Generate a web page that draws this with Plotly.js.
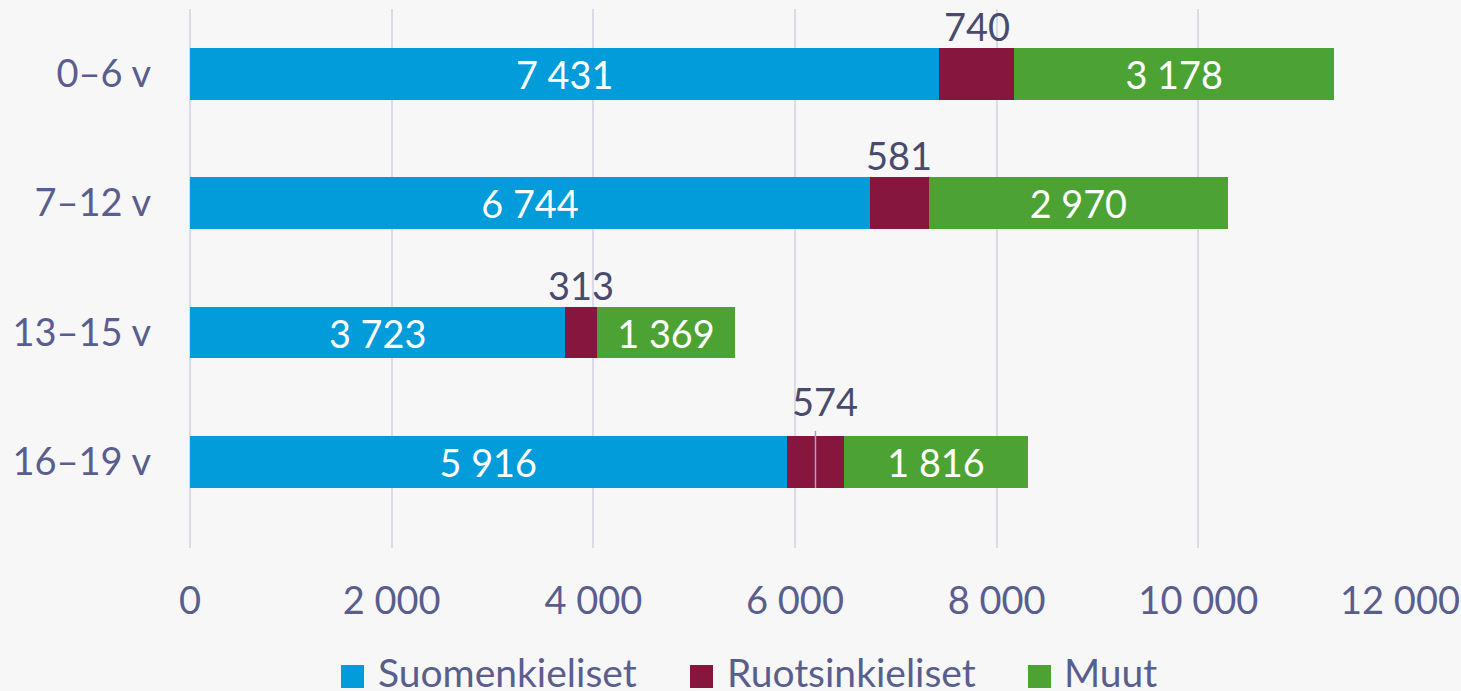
<!DOCTYPE html>
<html>
<head>
<meta charset="utf-8">
<script src="https://cdn.plot.ly/plotly-3.0.1.min.js"></script>
<style>
  html, body { margin: 0; padding: 0; background: #f7f7f7; overflow: hidden; }
  #chart { width: 1461px; height: 691px; }
</style>
</head>
<body>
<div id="chart"></div>
<script>
const categories = ['0–6 v', '7–12 v', '13–15 v', '16–19 v'];
const suomenkieliset = [7431, 6744, 3723, 5916];
const ruotsinkieliset = [740, 581, 313, 574];
const muut = [3178, 2970, 1369, 1816];
const seriesNames = ['Suomenkieliset', 'Ruotsinkieliset', 'Muut'];
const seriesColors = ['#019cd9', '#87163f', '#4ca334'];
const xTicks = [0, 2000, 4000, 6000, 8000, 10000, 12000];

const spaced = v => String(v).replace(/\B(?=(\d{3})+(?!\d))/g, ' ');

const FONT = 'Lato, "Open Sans", sans-serif';
const FS = 38;
const TICKCOL = '#5a5e8e';
const LABCOL = '#474b6e';

const W = 1461, H = 691;
const M = { l: 190, r: 61, t: 9, b: 143 };
const PW = W - M.l - M.r, PH = H - M.t - M.b;
const px2x = px => (px - M.l) / PW;
const py2y = py => (H - M.b - py) / PH;

const common = {
  type: 'bar', orientation: 'h', y: categories, width: 0.4,
  textposition: 'inside', insidetextanchor: 'middle',
  textfont: { family: FONT, size: FS, color: '#ffffff' },
  hoverinfo: 'x+name', cliponaxis: false, showlegend: false
};

const seriesValues = [suomenkieliset, ruotsinkieliset, muut];
const traces = seriesValues.map((vals, k) => Object.assign({}, common, {
  name: seriesNames[k], x: vals,
  text: k === 1 ? vals.map(() => '') : vals.map(spaced),
  texttemplate: '%{text}', marker: { color: seriesColors[k] }
}));

// labels above the Ruotsinkieliset segments
const annotations = categories.map((c, i) => {
  const xc = suomenkieliset[i] + ruotsinkieliset[i] / 2;
  const last = i === categories.length - 1;
  return {
    x: xc, y: i, xref: 'x', yref: 'y', text: spaced(ruotsinkieliset[i]),
    showarrow: false, yanchor: 'middle',
    yshift: last ? 61 : 48, xshift: last ? 10 : 0,
    font: { family: FONT, size: FS, color: LABCOL }
  };
});

// leader line for the last label
const li = categories.length - 1;
const shapes = [{
  type: 'line', xref: 'x', yref: 'y',
  x0: suomenkieliset[li] + ruotsinkieliset[li] / 2,
  x1: suomenkieliset[li] + ruotsinkieliset[li] / 2,
  y0: li - 0.24, y1: li + 0.2,
  line: { color: '#a3a6bf', width: 1.5 }
}];

// legend at the bottom
const legendSquareLeft = [341, 690, 1028];
const legendTextLeft = [377, 726, 1063];
seriesNames.forEach((n, k) => {
  shapes.push({
    type: 'rect', xref: 'paper', yref: 'paper', layer: 'above',
    x0: px2x(legendSquareLeft[k]), x1: px2x(legendSquareLeft[k] + 23),
    y0: py2y(688), y1: py2y(665),
    fillcolor: seriesColors[k], line: { width: 0 }
  });
  annotations.push({
    x: px2x(legendTextLeft[k]), y: py2y(672), xref: 'paper', yref: 'paper',
    xanchor: 'left', yanchor: 'middle', showarrow: false, text: n,
    font: { family: FONT, size: 39, color: TICKCOL }, borderpad: 0
  });
});

const layout = {
  width: W, height: H,
  paper_bgcolor: '#f7f7f7', plot_bgcolor: '#f7f7f7',
  barmode: 'stack', separators: ', ',
  margin: { l: M.l, r: M.r, t: M.t, b: M.b, autoexpand: false },
  font: { family: FONT, size: FS, color: TICKCOL },
  xaxis: {
    range: [0, 12000], tickvals: xTicks, ticktext: xTicks.map(spaced),
    showgrid: true, gridcolor: '#dadbe7', gridwidth: 2,
    zeroline: true, zerolinecolor: '#dadbe7', zerolinewidth: 2,
    showline: false, ticks: '', ticklabelstandoff: 27,
    tickfont: { family: FONT, size: FS, color: TICKCOL }, fixedrange: true
  },
  yaxis: {
    autorange: 'reversed', showgrid: false, zeroline: false, showline: false,
    ticks: '', ticklabelstandoff: 38,
    tickfont: { family: FONT, size: FS, color: TICKCOL }, fixedrange: true
  },
  showlegend: false,
  annotations: annotations,
  shapes: shapes,
  bargap: 0.6
};

Plotly.newPlot('chart', traces, layout, { displayModeBar: false, staticPlot: true });
</script>
</body>
</html>
